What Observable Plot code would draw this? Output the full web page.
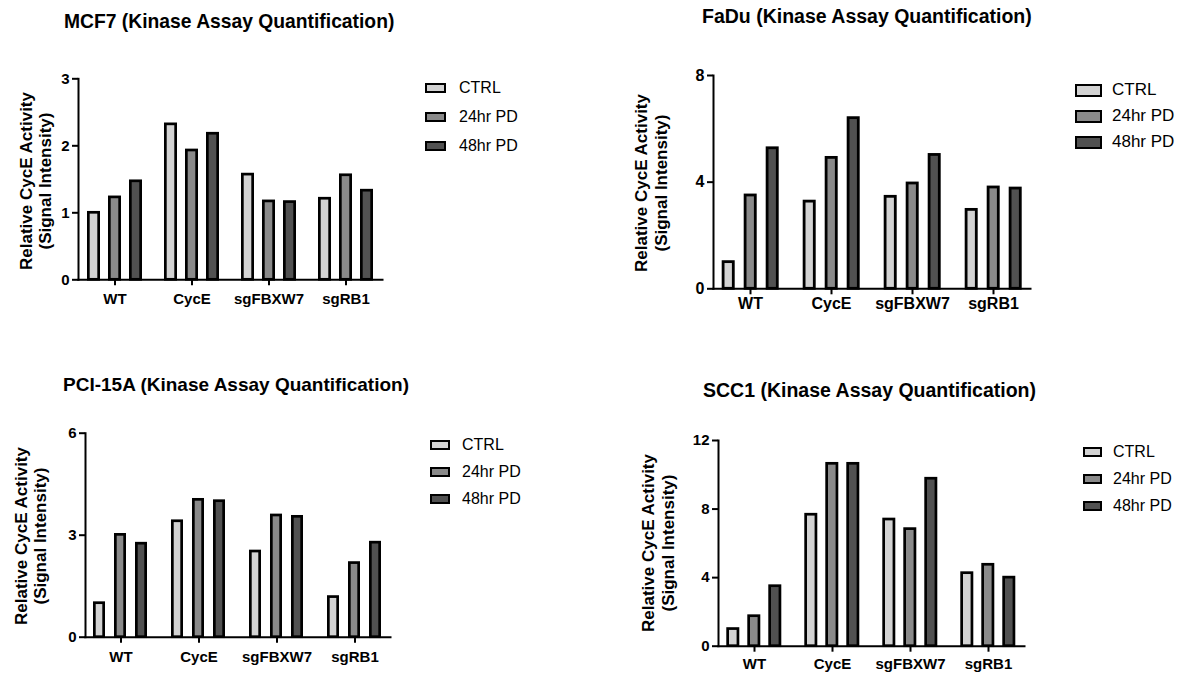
<!DOCTYPE html>
<html>
<head>
<meta charset="utf-8">
<script src="https://cdn.jsdelivr.net/npm/d3@7"></script>
<script src="https://cdn.jsdelivr.net/npm/@observablehq/plot@0.6"></script>
<style>
  html, body { margin: 0; padding: 0; background: #fff; }
  #root { position: relative; width: 1177px; height: 675px; overflow: hidden; background: #fff;
          font-family: "Liberation Sans", Arial, Helvetica, sans-serif; color: #000; }
  .title { position: absolute; font-weight: bold; white-space: nowrap; transform: translateY(-50%); }
  .ylab { position: absolute; font-weight: bold; white-space: nowrap; text-align: center;
          transform: translate(-50%, -50%) rotate(-90deg); }
  .leg { position: absolute; white-space: nowrap; transform: translateY(-50%); display: flex; align-items: center; }
  .sw { box-sizing: border-box; border: 2.5px solid #000; display: inline-block; }
</style>
</head>
<body>
<div id="root"></div>
<script>
// ---- data ----
const groups = ["WT", "CycE", "sgFBXW7", "sgRB1"];
const conditions = ["CTRL", "24hr PD", "48hr PD"];
const fills = ["#d3d3d3", "#8a8a8a", "#515151"];

const mcf7Ctrl = [1.0, 2.32, 1.57, 1.21];
const mcf7H24  = [1.23, 1.93, 1.17, 1.56];
const mcf7H48  = [1.47, 2.18, 1.16, 1.33];
const mcf7Ticks = [0, 1, 2, 3];

const faduCtrl = [1.0, 3.27, 3.45, 2.96];
const faduH24  = [3.5, 4.91, 3.95, 3.8];
const faduH48  = [5.27, 6.4, 5.02, 3.76];
const faduTicks = [0, 4, 8];

const pciCtrl = [1.0, 3.41, 2.52, 1.18];
const pciH24  = [3.01, 4.04, 3.58, 2.18];
const pciH48  = [2.75, 4.0, 3.54, 2.78];
const pciTicks = [0, 3, 6];

const sccCtrl = [1.0, 7.67, 7.39, 4.26];
const sccH24  = [1.75, 10.64, 6.83, 4.75];
const sccH48  = [3.5, 10.64, 9.77, 4.0];
const sccTicks = [0, 4, 8, 12];

const titleSuffix = " (Kinase Assay Quantification)";
const yLabel1 = "Relative CycE Activity";
const yLabel2 = "(Signal Intensity)";

const root = document.getElementById("root");

function panel(cfg) {
  const series = [cfg.ctrl, cfg.h24, cfg.h48];
  const data = [];
  groups.forEach((g, i) => conditions.forEach((c, j) => data.push({group: g, cond: c, value: series[j][i]})));
  const sw = cfg.sw;
  const chart = Plot.plot({
    width: cfg.w, height: cfg.h,
    marginLeft: cfg.ml, marginRight: cfg.mr, marginTop: cfg.mt, marginBottom: cfg.mb,
    style: {fontFamily: "'Liberation Sans', Arial, sans-serif", fontSize: cfg.fs + "px", fontWeight: "bold",
            color: "black", background: "transparent", overflow: "visible"},
    fx: {domain: groups, paddingInner: cfg.fxPi, paddingOuter: 0, label: null, axis: null},
    x: {domain: conditions, paddingInner: cfg.xPi, paddingOuter: cfg.xPo, axis: null},
    y: {domain: [0, cfg.yMax], axis: null},
    color: {domain: conditions, range: fills},
    marks: [
      Plot.barY(data, {fx: "group", x: "cond", y: "value", fill: "cond", stroke: "black", strokeWidth: sw,
                       insetLeft: sw / 2, insetRight: sw / 2}),
      Plot.frame({anchor: "bottom", facet: "super", stroke: "black", strokeWidth: 2}),
      Plot.frame({anchor: "left", facet: "super", stroke: "black", strokeWidth: 2}),
      Plot.axisY(cfg.ticks, {tickSize: 6, tickPadding: 3, fontSize: cfg.fs, fontWeight: "bold", strokeWidth: 2,
                             tickFormat: d3.format("d"), label: null}),
      Plot.axisFx({anchor: "bottom", tickSize: 6, tickPadding: cfg.xpad, fontSize: cfg.fs, fontWeight: "bold", strokeWidth: 2, label: null})
    ]
  });
  chart.style.position = "absolute";
  chart.style.left = cfg.left + "px";
  chart.style.top = cfg.top + "px";
  root.appendChild(chart);

  const t = document.createElement("div");
  t.className = "title";
  t.textContent = cfg.name + titleSuffix;
  t.style.left = cfg.tx + "px"; t.style.top = cfg.ty + "px"; t.style.fontSize = cfg.tfs + "px";
  root.appendChild(t);

  const yl = document.createElement("div");
  yl.className = "ylab";
  yl.innerHTML = yLabel1 + "<br>" + yLabel2;
  yl.style.left = cfg.ylx + "px"; yl.style.top = cfg.yly + "px";
  yl.style.fontSize = cfg.ylfs + "px"; yl.style.lineHeight = cfg.yllh + "px";
  root.appendChild(yl);

  conditions.forEach((c, j) => {
    const row = document.createElement("div");
    row.className = "leg";
    row.style.left = cfg.lx + "px";
    row.style.top = cfg.ly[j] + "px";
    row.style.fontSize = cfg.lfs + "px";
    const s = document.createElement("span");
    s.className = "sw";
    s.style.width = cfg.lsw + "px"; s.style.height = cfg.lsh + "px";
    s.style.background = fills[j];
    s.style.marginRight = cfg.lgap + "px";
    row.appendChild(s);
    row.appendChild(document.createTextNode(c));
    root.appendChild(row);
  });
}

panel({name: "MCF7", ctrl: mcf7Ctrl, h24: mcf7H24, h48: mcf7H48, ticks: mcf7Ticks, yMax: 3,
  left: 0, top: 60, w: 400, h: 260, ml: 78, mr: 18, mt: 18.3, mb: 40.7,
  fxPi: 0.052, xPi: 0.377, xPo: 0.398, sw: 2.7, fs: 15, xpad: 8,
  tx: 64, ty: 22, tfs: 19.3, ylx: 36, yly: 181, ylfs: 17, yllh: 19,
  lx: 425, ly: [88, 117, 146], lfs: 16, lsw: 21, lsh: 10, lgap: 13});

panel({name: "FaDu", ctrl: faduCtrl, h24: faduH24, h48: faduH48, ticks: faduTicks, yMax: 8,
  left: 600, top: 55, w: 440, h: 270, ml: 112.3, mr: 10, mt: 20, mb: 36.7,
  fxPi: 0.087, xPi: 0.403, xPo: 0.341, sw: 2.8, fs: 16, xpad: 3,
  tx: 702, ty: 16, tfs: 19.5, ylx: 652, yly: 183, ylfs: 17, yllh: 20,
  lx: 1075, ly: [90, 116, 142], lfs: 17, lsw: 27, lsh: 13, lgap: 10});

panel({name: "PCI-15A", ctrl: pciCtrl, h24: pciH24, h48: pciH48, ticks: pciTicks, yMax: 6,
  left: 0, top: 415, w: 410, h: 260, ml: 85, mr: 20, mt: 17.7, mb: 38.3,
  fxPi: 0.095, xPi: 0.405, xPo: 0.358, sw: 2.7, fs: 15, xpad: 8,
  tx: 63, ty: 385, tfs: 19, ylx: 31, yly: 536, ylfs: 17, yllh: 19,
  lx: 430, ly: [445, 472, 499], lfs: 16, lsw: 20, lsh: 10, lgap: 12});

panel({name: "SCC1", ctrl: sccCtrl, h24: sccH24, h48: sccH48, ticks: sccTicks, yMax: 12,
  left: 620, top: 420, w: 420, h: 255, ml: 96.7, mr: 15, mt: 20, mb: 29.3,
  fxPi: 0.073, xPi: 0.381, xPo: 0.372, sw: 2.7, fs: 15, xpad: 6,
  tx: 703, ty: 390, tfs: 19.5, ylx: 659, yly: 543, ylfs: 17, yllh: 20,
  lx: 1083, ly: [452, 479, 506], lfs: 16, lsw: 19, lsh: 10, lgap: 11});
</script>
</body>
</html>
